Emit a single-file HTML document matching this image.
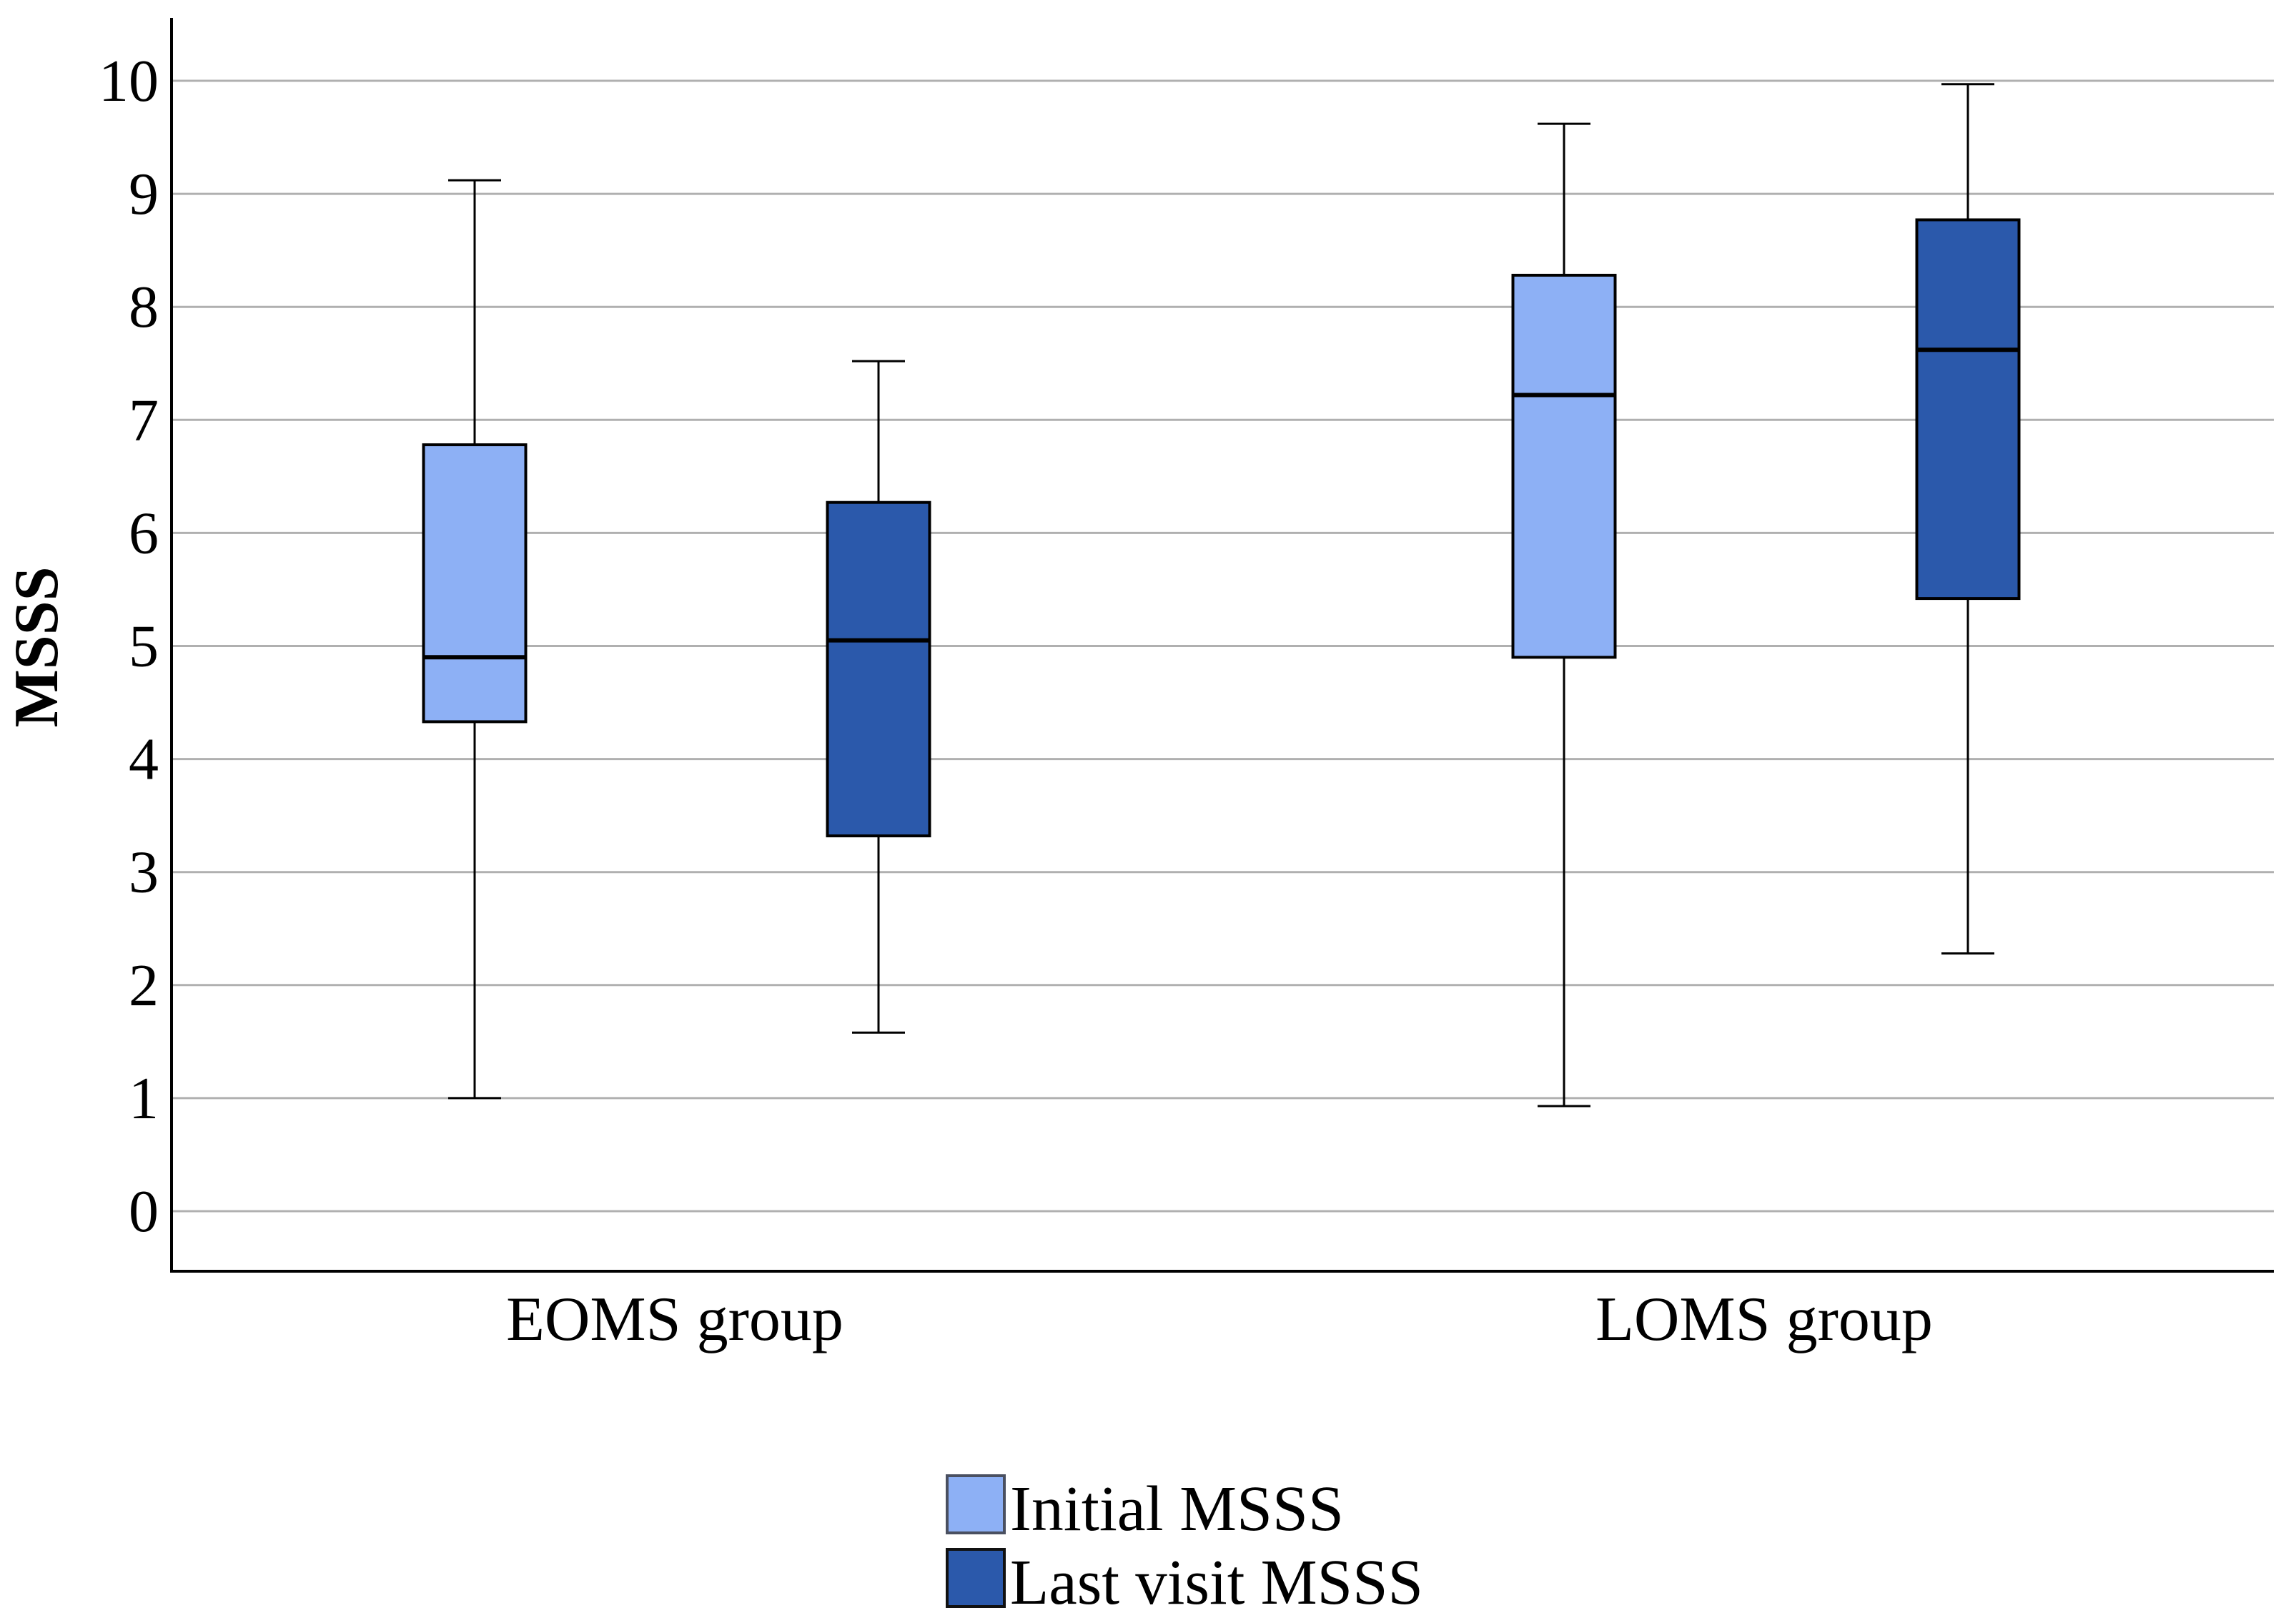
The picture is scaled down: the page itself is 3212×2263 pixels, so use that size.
<!DOCTYPE html>
<html><head><meta charset="utf-8"><style>html,body{margin:0;padding:0;background:#fff}svg{display:block}</style></head>
<body>
<svg id="chart" width="3212" height="2263" viewBox="0 0 3212 2263" xmlns="http://www.w3.org/2000/svg" font-family="'Liberation Serif', serif">
<g id="grid"></g>
<g id="yticks"></g>
<g id="boxes"></g>
<line x1="240" y1="25" x2="240" y2="1780" stroke="#000" stroke-width="4"/>
<line x1="238" y1="1778" x2="3181" y2="1778" stroke="#000" stroke-width="4"/>
<text transform="translate(80,905) rotate(-90)" text-anchor="middle" font-weight="bold" font-size="88" textLength="225" lengthAdjust="spacingAndGlyphs">MSSS</text>
<g id="xlabels"></g>
<g>
<g>
<rect x="1325" y="2064" width="80" height="80" fill="#8db0f5" stroke="#4a5060" stroke-width="4"/>
<text x="1413" y="2140" font-size="90" textLength="467" lengthAdjust="spacingAndGlyphs">Initial MSSS</text></g>
<g>
<rect x="1325" y="2167" width="80" height="80" fill="#2b59ab" stroke="#111" stroke-width="4"/>
<text x="1413" y="2243" font-size="90" textLength="578" lengthAdjust="spacingAndGlyphs">Last visit MSSS</text></g>
</g>
</svg>
<script>
const categories = ["EOMS group", "LOMS group"];
const seriesNames = ["Initial MSSS", "Last visit MSSS"];
const whiskerLow = [[1.0, 1.58], [0.93, 2.28]];
const q1 = [[4.33, 3.32], [4.9, 5.42]];
const median = [[4.9, 5.05], [7.22, 7.62]];
const q3 = [[6.78, 6.27], [8.28, 8.77]];
const whiskerHigh = [[9.12, 7.52], [9.62, 9.97]];
const yTicks = [0,1,2,3,4,5,6,7,8,9,10];
const colors = ["#8db0f5", "#2b59ab"];
const NS = "http://www.w3.org/2000/svg";
function y(v){ return 1694 - v*158.1; }
function xc(ci){ return 944 + ci*1524; }
function xs(ci, si){ return xc(ci) + (si===0?-280:285); }
function mk(tag, attrs, parent){ const e=document.createElementNS(NS,tag); for(const k in attrs) e.setAttribute(k,attrs[k]); parent.appendChild(e); return e; }
const grid=document.getElementById('grid'), yt=document.getElementById('yticks'), bx=document.getElementById('boxes'), xl=document.getElementById('xlabels');
yTicks.forEach(t=>{
  const l=mk('line',{x1:240,x2:3181,y1:y(t),y2:y(t),stroke:'#b0b0b0','stroke-width':3},grid);
  
  
  const tx=mk('text',{x:222,y:y(t)+28,'text-anchor':'end','font-size':84},yt);
  tx.textContent=String(t);
  
  
});
categories.forEach((c,ci)=>{
  const t=mk('text',{x:xc(ci),y:1874,'text-anchor':'middle','font-size':88},xl);
  t.textContent=c;
  
  
  seriesNames.forEach((s,si)=>{
    const cx=xs(ci,si), w=143, cw=74;
    const g=mk('g',{},bx);
    
    
    mk('line',{x1:cx,x2:cx,y1:y(whiskerHigh[ci][si]),y2:y(q3[ci][si]),stroke:'#000','stroke-width':3},g);
    mk('line',{x1:cx,x2:cx,y1:y(q1[ci][si]),y2:y(whiskerLow[ci][si]),stroke:'#000','stroke-width':3},g);
    mk('line',{x1:cx-cw/2,x2:cx+cw/2,y1:y(whiskerHigh[ci][si]),y2:y(whiskerHigh[ci][si]),stroke:'#000','stroke-width':3},g);
    mk('line',{x1:cx-cw/2,x2:cx+cw/2,y1:y(whiskerLow[ci][si]),y2:y(whiskerLow[ci][si]),stroke:'#000','stroke-width':3},g);
    mk('rect',{x:cx-w/2,y:y(q3[ci][si]),width:w,height:y(q1[ci][si])-y(q3[ci][si]),fill:colors[si],stroke:'#000','stroke-width':4},g);
    mk('line',{x1:cx-w/2,x2:cx+w/2,y1:y(median[ci][si]),y2:y(median[ci][si]),stroke:'#000','stroke-width':6},g);
  });
});
</script>
</body></html>
